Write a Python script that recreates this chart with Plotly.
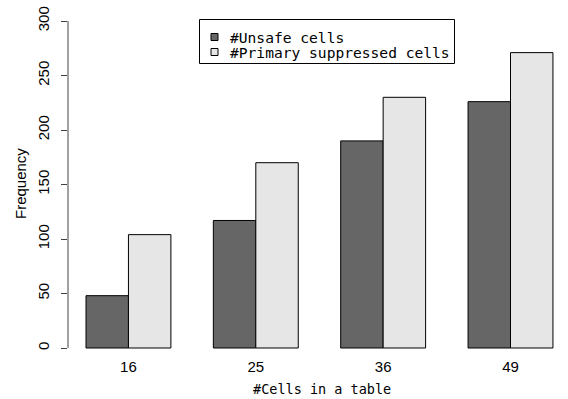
import plotly.graph_objects as go

categories = ["16", "25", "36", "49"]
unsafe = [48, 117, 190, 226]
primary = [104, 170, 230, 271]
series_names = ["#Unsafe cells", "#Primary suppressed cells"]
y_ticks = [0, 50, 100, 150, 200, 250, 300]

W, H = 568, 399
L, R, T, B = 68, 0, 10, 39
PW, PH = W - L - R, H - T - B
UNIT = 42.45

def px(xp):
    return (xp - L) / PW

def py(yp):
    return (H - B - yp) / PH

centers = [2 + 3 * i for i in range(len(categories))]

fig = go.Figure()
fig.add_trace(go.Bar(x=centers, y=unsafe, width=1, offset=-1, name=series_names[0],
                     marker=dict(color="#666666", line=dict(color="#000000", width=1)),
                     showlegend=False))
fig.add_trace(go.Bar(x=centers, y=primary, width=1, offset=0, name=series_names[1],
                     marker=dict(color="#e6e6e6", line=dict(color="#000000", width=1)),
                     showlegend=False))

shapes = []
# y axis line spanning tick range
shapes.append(dict(type="line", xref="paper", yref="y", x0=0, x1=0, y0=0, y1=300,
                   line=dict(color="#444444", width=1)))
# legend box
shapes.append(dict(type="rect", xref="paper", yref="paper", x0=px(199.5), x1=px(454.5),
                   y0=py(63.5), y1=py(19.5), line=dict(color="#000000", width=1),
                   fillcolor="white"))
row_y = [37, 52]
colors = ["#666666", "#e6e6e6"]
annotations = []
for i, name in enumerate(series_names):
    shapes.append(dict(type="rect", xref="paper", yref="paper",
                       x0=px(211), x1=px(218), y0=py(row_y[i] + 3.5), y1=py(row_y[i] - 3.5),
                       fillcolor=colors[i], line=dict(color="#000000", width=1)))
    annotations.append(dict(xref="paper", yref="paper", x=px(228), y=py(row_y[i]),
                            text=name, showarrow=False, xanchor="left", yanchor="middle",
                            font=dict(family="DejaVu Sans Mono", size=14.6, color="black")))

annotations.append(dict(xref="paper", yref="paper", x=px(321.5), y=py(389),
                        text="#Cells in a table", showarrow=False, xanchor="center",
                        yanchor="middle",
                        font=dict(family="DejaVu Sans Mono", size=13.5, color="black")))
annotations.append(dict(xref="paper", yref="paper", x=px(20), y=py(184),
                        text="Frequency", showarrow=False, textangle=-90,
                        xanchor="center", yanchor="middle",
                        font=dict(family="Liberation Sans", size=15, color="black")))

x0 = 1 - (86 - L) / UNIT
fig.update_layout(
    width=W, height=H,
    margin=dict(l=L, r=R, t=T, b=B, pad=0),
    paper_bgcolor="white", plot_bgcolor="white",
    barmode="overlay",
    shapes=shapes, annotations=annotations,
    xaxis=dict(range=[x0, x0 + PW / UNIT], tickvals=centers, ticktext=categories,
               showgrid=False, zeroline=False, showline=False, ticks="",
               automargin=False, ticklabelstandoff=-4,
               tickfont=dict(family="Liberation Sans", size=15, color="black")),
    yaxis=dict(range=[-12 / 1.09, 300 + 11 / 1.09], tickvals=y_ticks,
               ticktext=[str(v) for v in y_ticks], tickangle=-90,
               showgrid=False, zeroline=False, showline=False,
               ticks="outside", ticklen=6, tickcolor="#444444", tickwidth=1,
               ticklabelstandoff=6, automargin=False,
               tickfont=dict(family="Liberation Sans", size=15, color="black")),
)

fig.write_html("out.html", config={"displayModeBar": False},
               post_script="document.body.style.margin='0';document.body.style.padding='0';")
